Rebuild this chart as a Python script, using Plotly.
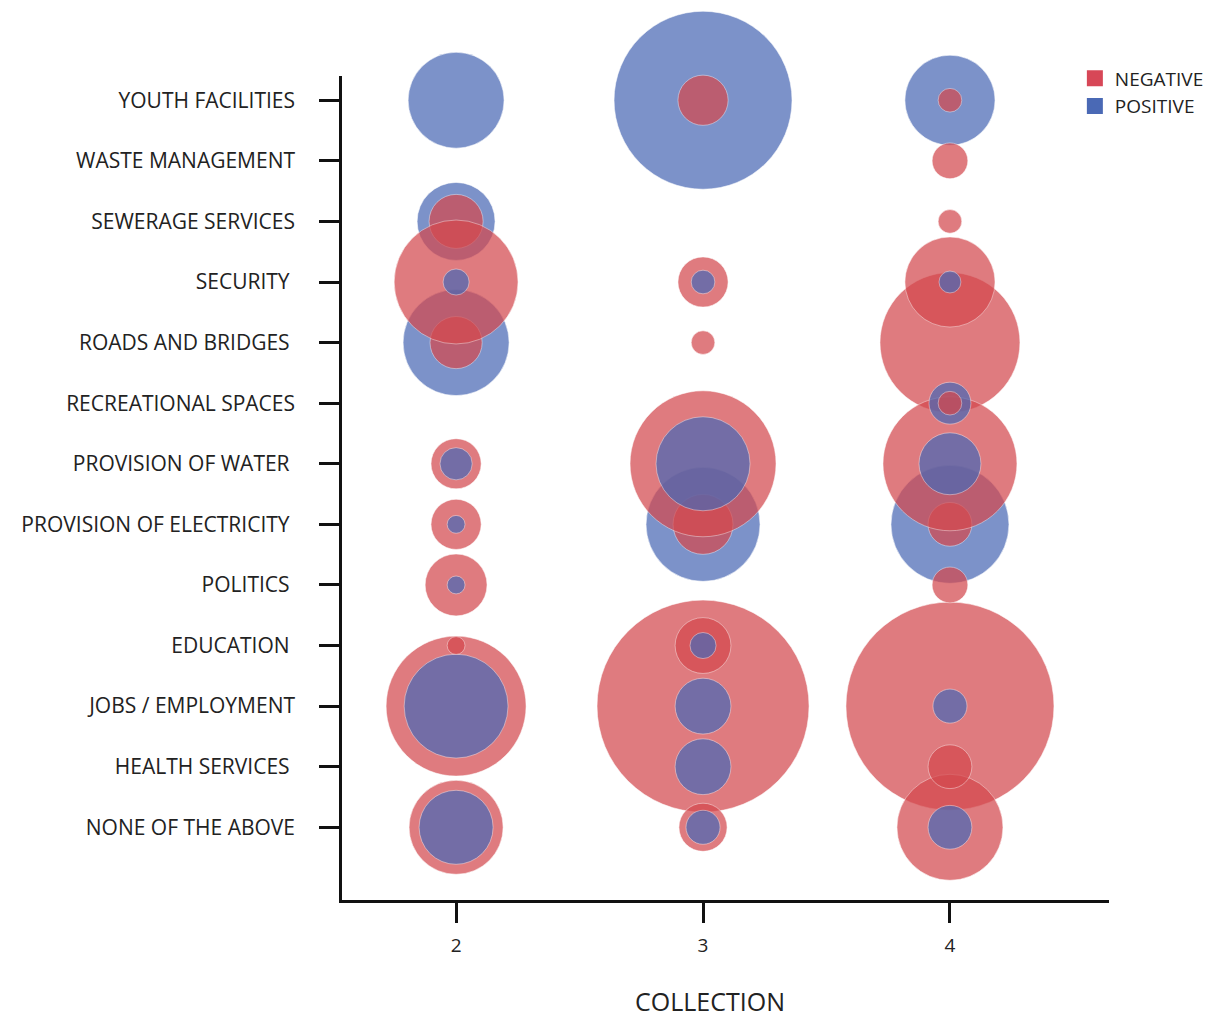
import plotly.graph_objects as go

categories = ["YOUTH FACILITIES", "WASTE MANAGEMENT", "SEWERAGE SERVICES", "SECURITY ",
              "ROADS AND BRIDGES ", "RECREATIONAL SPACES", "PROVISION OF WATER ",
              "PROVISION OF ELECTRICITY ", "POLITICS ", "EDUCATION ", "JOBS / EMPLOYMENT",
              "HEALTH SERVICES ", "NONE OF THE ABOVE"]
collections = [2, 3, 4]

# counts per category (rows follow `categories`), one list per collection
negative_c2 = [0, 0, 73, 384, 68, 0, 63, 63, 96, 8, 490, 0, 221]
negative_c3 = [63, 0, 0, 63, 14, 0, 533, 90, 0, 78, 1124, 0, 58]
negative_c4 = [14, 32, 14, 203, 490, 14, 449, 48, 32, 0, 1082, 48, 281]
positive_c2 = [230, 0, 152, 17, 281, 0, 26, 8, 8, 0, 270, 0, 137]
positive_c3 = [792, 0, 0, 14, 0, 0, 221, 325, 0, 17, 78, 78, 29]
positive_c4 = [203, 0, 0, 12, 0, 44, 96, 348, 0, 0, 29, 0, 48]

# rendering layer order of the category groups (first = bottom layer)
draw_order = ["JOBS / EMPLOYMENT", "NONE OF THE ABOVE", "PROVISION OF ELECTRICITY ",
              "ROADS AND BRIDGES ", "SEWERAGE SERVICES", "PROVISION OF WATER ", "POLITICS ",
              "SECURITY ", "RECREATIONAL SPACES", "HEALTH SERVICES ", "EDUCATION ",
              "YOUTH FACILITIES", "WASTE MANAGEMENT"]

NEG_COLOR = "#D4494E"
POS_COLOR = "#4A69B5"
NEG_LEGEND = "#D74757"
POS_LEGEND = "#4A69B5"

series = {
    "NEGATIVE": (NEG_COLOR, NEG_LEGEND, [negative_c2, negative_c3, negative_c4]),
    "POSITIVE": (POS_COLOR, POS_LEGEND, [positive_c2, positive_c3, positive_c4]),
}

# point table: groups layered by draw_order, inside a group the larger bubble goes below
points = []
for name, (color, _, cols) in series.items():
    for coll, vals in zip(collections, cols):
        for i, v in enumerate(vals):
            if v > 0:
                points.append((v, coll, i, color, name))
points.sort(key=lambda p: (draw_order.index(categories[p[2]]), -p[0]))

fig = go.Figure()
fig.add_trace(go.Scatter(
    x=[p[1] for p in points],
    y=[p[2] for p in points],
    mode="markers",
    marker=dict(
        size=[p[0] for p in points],
        sizemode="area",
        sizeref=0.05,
        color=[p[3] for p in points],
        opacity=0.72,
        line=dict(width=1, color="rgba(255,255,255,0.55)"),
    ),
    text=[p[4] for p in points],
    cliponaxis=False,
    showlegend=False,
    hovertemplate="%{text}<br>%{x}: %{marker.size}<extra></extra>",
))

for name, (_, lcolor, _) in series.items():
    fig.add_trace(go.Scatter(
        x=[None], y=[None], mode="markers", name=name,
        marker=dict(symbol="square", size=17, color=lcolor),
    ))

fig.update_layout(
    width=1231, height=1023,
    margin=dict(l=334, r=130, t=68, b=131),
    paper_bgcolor="white", plot_bgcolor="white",
    font=dict(family="Open Sans", color="#222222", size=20),
    legend=dict(x=0.9555, y=1.02, xanchor="left", yanchor="top",
                font=dict(size=19, color="#222222"), bgcolor="rgba(0,0,0,0)",
                tracegroupgap=0, itemwidth=30),
    annotations=[dict(text="COLLECTION", x=0.48, y=-0.123, xref="paper", yref="paper",
                      xanchor="center", yanchor="middle", showarrow=False,
                      font=dict(size=25, color="#222222"))],
)

fig.update_xaxes(
    range=[1.538, 4.644], tickvals=collections, ticktext=[str(c) for c in collections],
    showgrid=False, zeroline=False, showline=True, linecolor="#111111", linewidth=2.5,
    ticks="outside", ticklen=20, tickwidth=2.5, tickcolor="#111111",
    tickfont=dict(size=19, color="#222222"), ticklabelstandoff=6,
)
fig.update_yaxes(
    range=[13.2, -0.4], tickvals=list(range(len(categories))), ticktext=categories,
    showgrid=False, zeroline=False, showline=True, linecolor="#111111", linewidth=2.5,
    ticks="outside", ticklen=20, tickwidth=2.5, tickcolor="#111111",
    tickfont=dict(size=21, color="#222222"), ticklabelstandoff=20,
)

fig.write_html("out.html")
